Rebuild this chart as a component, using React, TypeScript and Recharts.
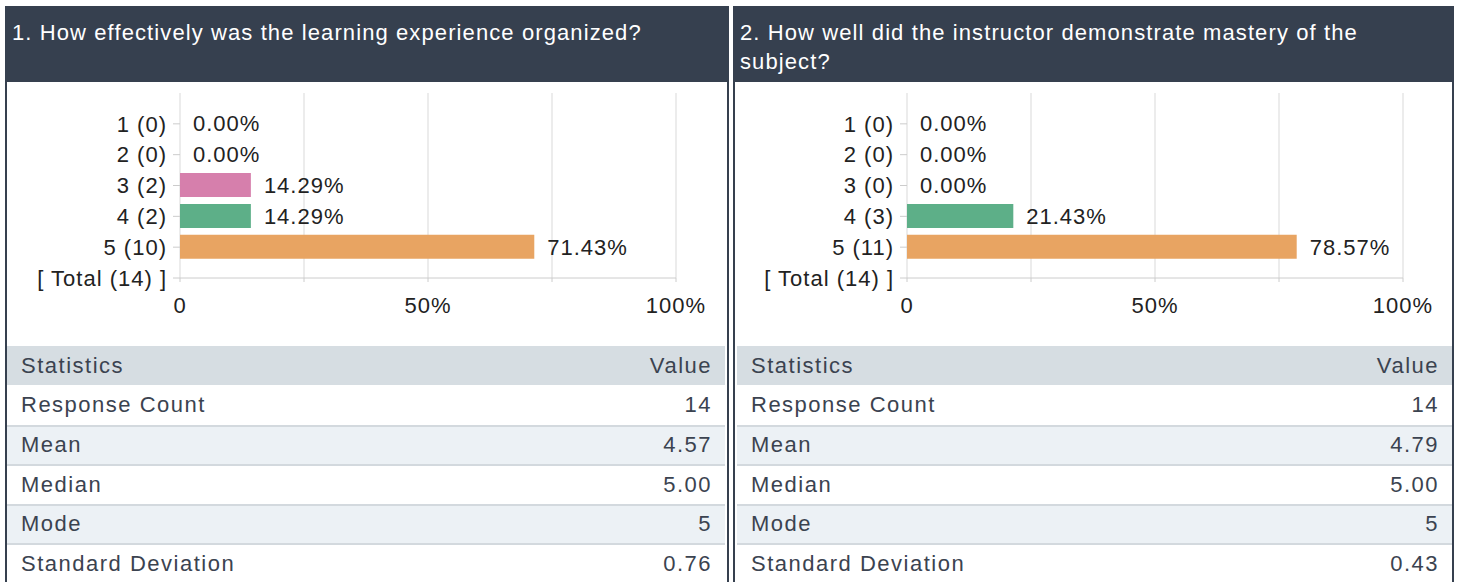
import React from "react";
import { BarChart, Bar, XAxis, YAxis, CartesianGrid, Cell, LabelList } from "recharts";

// rating scale shared by both questions
const ratings = ["1", "2", "3", "4", "5"];
const barColors = ["#d9605a", "#5b8fd6", "#d67fac", "#5daf88", "#e8a462"];
const xTicks = [0, 25, 50, 75, 100];

const q1Title = "1. How effectively was the learning experience organized?";
const q1Counts = [0, 0, 2, 2, 10];
const q1Percents = [0, 0, 14.29, 14.29, 71.43];
const q1Total = 14;

const q2Title = "2. How well did the instructor demonstrate mastery of the subject?";
const q2Counts = [0, 0, 0, 3, 11];
const q2Percents = [0, 0, 0, 21.43, 78.57];
const q2Total = 14;

const statNames = ["Response Count", "Mean", "Median", "Mode", "Standard Deviation"];
const q1Stats = ["14", "4.57", "5.00", "5", "0.76"];
const q2Stats = ["14", "4.79", "5.00", "5", "0.43"];

const FONT = '"Liberation Sans", Arial, Helvetica, sans-serif';
const DARK = "#36404f";
const TEXT = "#3b4350";

interface PanelProps {
  title: string;
  counts: number[];
  percents: number[];
  total: number;
  stats: string[];
  width: number;
  yAxisWidth: number;
  tableMargin: string;
}

const Panel: React.FC<PanelProps> = ({ title, counts, percents, total, stats, width, yAxisWidth, tableMargin }) => {
  const data = ratings.map((r, i) => ({
    pos: i + 1,
    label: `${r} (${counts[i]})`,
    pct: percents[i],
    color: barColors[i],
  }));
  const yLabels = [...data.map((d) => d.label), `[ Total (${total}) ]`];
  const chartWidth = width - 4;
  const plotWidth = 496;

  return (
    <div
      style={{
        width,
        height: 576,
        boxSizing: "border-box",
        border: `2px solid ${DARK}`,
        borderTop: "none",
        borderBottom: "none",
        flexShrink: 0,
      }}
    >
      <div
        style={{
          height: 76,
          boxSizing: "border-box",
          background: DARK,
          color: "#fff",
          fontSize: 22,
          lineHeight: "29px",
          padding: "12px 20px 0 5px",
          letterSpacing: 1.1,
        }}
      >
        {title}
      </div>
      <div style={{ height: 264 }}>
        <BarChart
          width={chartWidth}
          height={264}
          layout="vertical"
          data={data}
          margin={{ top: 11, right: chartWidth - yAxisWidth - plotWidth, bottom: 0, left: 0 }}
        >
          <CartesianGrid horizontal={false} stroke="#d9d9d9" />
          <XAxis
            type="number"
            domain={[0, 100]}
            ticks={xTicks}
            interval={0}
            height={68}
            tickSize={4}
            tickMargin={15}
            stroke="#cccccc"
            tick={{ fill: "#222", fontSize: 22 }}
            tickFormatter={(v: number) => (v === 0 ? "0" : v % 50 === 0 ? `${v}%` : "")}
          />
          <YAxis
            type="number"
            dataKey="pos"
            domain={[0, 6]}
            ticks={[1, 2, 3, 4, 5, 6]}
            interval={0}
            width={yAxisWidth}
            tickSize={7}
            tickMargin={6}
            axisLine={false}
            tickLine={{ stroke: "#cccccc" }}
            tick={{ fill: "#222", fontSize: 22 }}
            tickFormatter={(v: number) => yLabels[v - 1] ?? ""}
          />
          <Bar dataKey="pct" barSize={24} minPointSize={0.001} isAnimationActive={false}>
            {data.map((d) => (
              <Cell key={d.pos} fill={d.color} />
            ))}
            <LabelList
              dataKey="pct"
              position="right"
              offset={13}
              fill="#222"
              fontSize={22}
              formatter={(v: any) => (v == null ? "" : `${Number(v).toFixed(2)}%`)}
            />
          </Bar>
        </BarChart>
      </div>
      <div style={{ margin: tableMargin, fontSize: 22, color: TEXT, letterSpacing: 1.5 }}>
        <div
          style={{
            height: 39,
            background: "#d6dde2",
            display: "flex",
            alignItems: "center",
            justifyContent: "space-between",
            padding: "0 13px 0 14px",
            boxSizing: "border-box",
          }}
        >
          <span>Statistics</span>
          <span>Value</span>
        </div>
        {statNames.map((name, i) => (
          <div
            key={name}
            style={{
              height: 39.5,
              background: i % 2 === 1 ? "#ecf1f5" : "#fff",
              borderTop: i === 0 ? "none" : "2px solid #d3d9de",
              display: "flex",
              alignItems: "center",
              justifyContent: "space-between",
              padding: "0 13px 0 14px",
              boxSizing: "border-box",
            }}
          >
            <span>{name}</span>
            <span>{stats[i]}</span>
          </div>
        ))}
      </div>
    </div>
  );
};

export default function App() {
  return (
    <div
      style={{
        width: 1463,
        height: 582,
        overflow: "hidden",
        display: "flex",
        gap: 4,
        padding: "6px 0 0 5px",
        boxSizing: "border-box",
        fontFamily: FONT,
        background: "#fff",
      }}
    >
      <style>{"body{margin:0} .recharts-text{letter-spacing:1px}"}</style>
      <Panel
        title={q1Title}
        counts={q1Counts}
        percents={q1Percents}
        total={q1Total}
        stats={q1Stats}
        width={724}
        yAxisWidth={173}
        tableMargin="0 2px 0 0"
      />
      <Panel
        title={q2Title}
        counts={q2Counts}
        percents={q2Percents}
        total={q2Total}
        stats={q2Stats}
        width={721}
        yAxisWidth={172}
        tableMargin="0 0 0 2px"
      />
    </div>
  );
}
